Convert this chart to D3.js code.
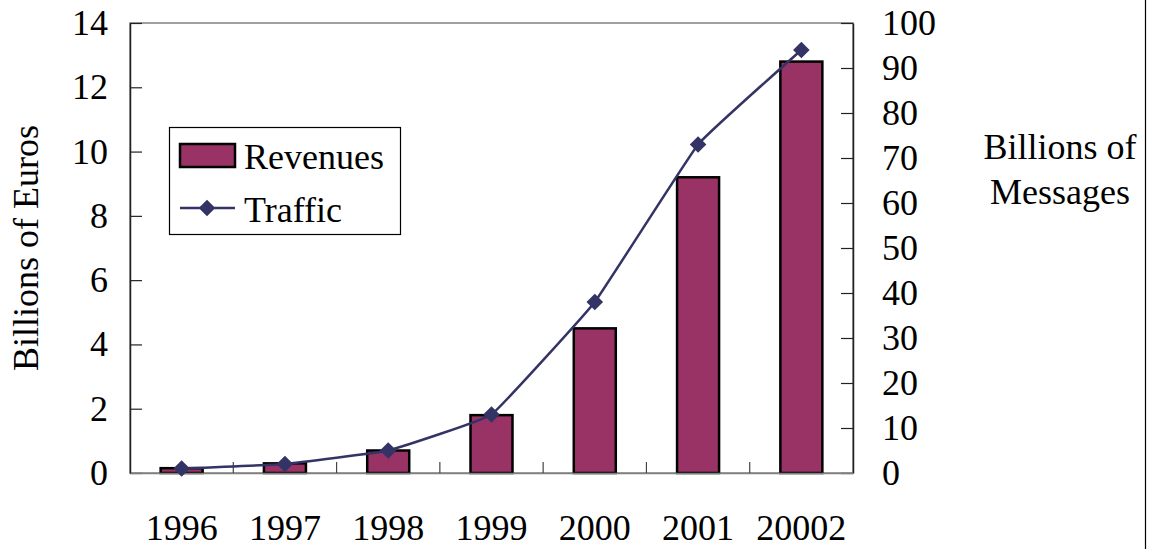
<!DOCTYPE html>
<html>
<head>
<meta charset="utf-8">
<script src="https://cdn.jsdelivr.net/npm/d3@7"></script>
<style>
  html, body { margin: 0; padding: 0; background: #fff; }
  svg { display: block; }
  text { font-family: "Liberation Serif", "Times New Roman", serif; fill: #000; }
</style>
</head>
<body>
<svg id="chart" width="1158" height="549"></svg>
<script>
// Years on the category axis (last label kept as printed)
const years = ["1996", "1997", "1998", "1999", "2000", "2001", "20002"];
// Revenues, billions of euros (left axis)
const revenues = [0.15, 0.3, 0.7, 1.8, 4.5, 9.2, 12.8];
// Traffic, billions of messages (right axis)
const traffic = [1, 2, 5, 13, 38, 73, 94];
// Axis tick values
const leftTicks = [0, 2, 4, 6, 8, 10, 12, 14];
const rightTicks = [0, 10, 20, 30, 40, 50, 60, 70, 80, 90, 100];

const svg = d3.select("#chart");
const plot = { left: 130, right: 853, top: 23, bottom: 473 };
const barColor = "#993366";
const lineColor = "#333366";
const fontSize = 36;

const x = d3.scaleBand().domain(years).range([plot.left, plot.right]);
const yL = d3.scaleLinear().domain([0, 14]).range([plot.bottom, plot.top]);
const yR = d3.scaleLinear().domain([0, 100]).range([plot.bottom, plot.top]);

// Plot area frame
svg.append("rect")
  .attr("x", plot.left).attr("y", plot.top)
  .attr("width", plot.right - plot.left).attr("height", plot.bottom - plot.top)
  .attr("fill", "none").attr("stroke", "#808080").attr("stroke-width", 1.5);

// Bars
const barW = 42;
svg.append("g").selectAll("rect")
  .data(years)
  .join("rect")
  .attr("x", (d) => x(d) + x.bandwidth() / 2 - barW / 2)
  .attr("y", (d, i) => yL(revenues[i]))
  .attr("width", barW)
  .attr("height", (d, i) => plot.bottom - yL(revenues[i]))
  .attr("fill", barColor)
  .attr("stroke", "#000")
  .attr("stroke-width", 2.5);

// Left axis (ticks pointing inward)
const leftAxis = svg.append("g")
  .attr("transform", `translate(${plot.left},0)`)
  .call(d3.axisLeft(yL).tickValues(leftTicks).tickSizeInner(-12).tickSizeOuter(0).tickPadding(22));
leftAxis.select(".domain").attr("stroke", "#222").attr("stroke-width", 1.5);
leftAxis.selectAll(".tick line").attr("stroke", "#222").attr("stroke-width", 1.2);
leftAxis.selectAll(".tick text")
  .attr("font-size", fontSize).attr("font-family", "Liberation Serif")
  .attr("x", -22).attr("fill", "#000");

// Right axis (ticks pointing inward)
const rightAxis = svg.append("g")
  .attr("transform", `translate(${plot.right},0)`)
  .call(d3.axisRight(yR).tickValues(rightTicks).tickSizeInner(-12).tickSizeOuter(0).tickPadding(29));
rightAxis.select(".domain").attr("stroke", "#222").attr("stroke-width", 1.5);
rightAxis.selectAll(".tick line").attr("stroke", "#222").attr("stroke-width", 1.2);
rightAxis.selectAll(".tick text")
  .attr("font-size", fontSize).attr("font-family", "Liberation Serif")
  .attr("x", 29).attr("fill", "#000");

// Category axis with ticks between categories
const bottomAxis = svg.append("g")
  .attr("transform", `translate(0,${plot.bottom})`)
  .call(d3.axisBottom(x).tickSize(0));
bottomAxis.select(".domain").attr("stroke", "#808080").attr("stroke-width", 1.5);
bottomAxis.selectAll(".tick text")
  .attr("font-size", fontSize).attr("font-family", "Liberation Serif").attr("fill", "#000")
  .attr("y", 67).attr("dy", 0);
svg.append("g").selectAll("line")
  .data(years.slice(1))
  .join("line")
  .attr("x1", (d) => x(d)).attr("x2", (d) => x(d))
  .attr("y1", plot.bottom).attr("y2", plot.bottom - 11)
  .attr("stroke", "#444").attr("stroke-width", 1.2);

// Traffic line (lightly smoothed) and diamond markers
const line = d3.line()
  .x((d, i) => x(years[i]) + x.bandwidth() / 2)
  .y((d) => yR(d))
  .curve(d3.curveCardinal.tension(0.75));
svg.append("path")
  .datum(traffic)
  .attr("d", line)
  .attr("fill", "none")
  .attr("stroke", lineColor)
  .attr("stroke-width", 2.5);

const diamond = d3.symbol().type(d3.symbolDiamond2).size(175);
svg.append("g").selectAll("path")
  .data(traffic)
  .join("path")
  .attr("d", diamond)
  .attr("transform", (d, i) => `translate(${x(years[i]) + x.bandwidth() / 2},${yR(d)})`)
  .attr("fill", lineColor);

// Axis titles
svg.append("text")
  .attr("transform", "translate(38,248) rotate(-90)")
  .attr("text-anchor", "middle")
  .attr("font-size", fontSize)
  .text("Billions of Euros");
svg.append("text")
  .attr("x", 1060).attr("y", 159)
  .attr("text-anchor", "middle")
  .attr("font-size", fontSize)
  .text("Billions of");
svg.append("text")
  .attr("x", 1060).attr("y", 204)
  .attr("text-anchor", "middle")
  .attr("font-size", fontSize)
  .text("Messages");

// Legend
const lg = svg.append("g");
lg.append("rect")
  .attr("x", 169.5).attr("y", 127.5).attr("width", 231).attr("height", 107)
  .attr("fill", "#fff").attr("stroke", "#000").attr("stroke-width", 1.2);
lg.append("rect")
  .attr("x", 180).attr("y", 144).attr("width", 55).attr("height", 23)
  .attr("fill", barColor).attr("stroke", "#000").attr("stroke-width", 2.5);
lg.append("text").attr("x", 244).attr("y", 169).attr("font-size", fontSize).text("Revenues");
lg.append("line")
  .attr("x1", 180).attr("x2", 235).attr("y1", 208).attr("y2", 208)
  .attr("stroke", lineColor).attr("stroke-width", 2.5);
lg.append("path")
  .attr("d", diamond)
  .attr("transform", "translate(207,208)")
  .attr("fill", lineColor);
lg.append("text").attr("x", 244).attr("y", 222).attr("font-size", fontSize).text("Traffic");

// Page border on the right
svg.append("line")
  .attr("x1", 1145.5).attr("x2", 1145.5).attr("y1", 0).attr("y2", 549)
  .attr("stroke", "#000").attr("stroke-width", 1.2);
</script>
</body>
</html>
